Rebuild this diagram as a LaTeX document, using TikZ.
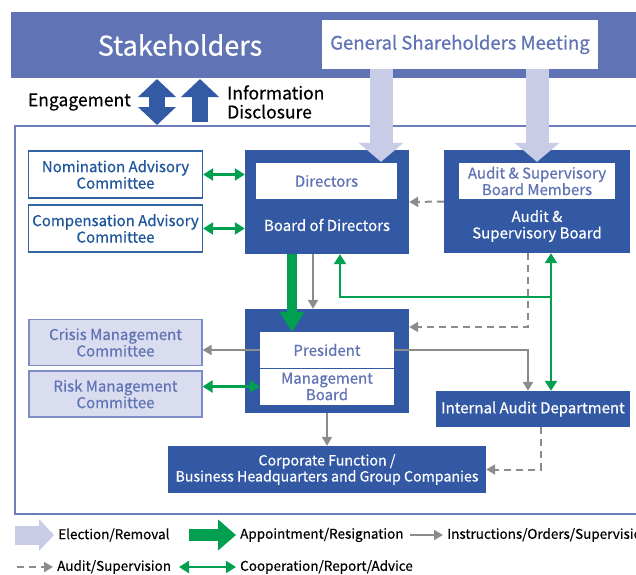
\documentclass[tikz,border=0pt]{standalone}
\usepackage{fontspec}
\setmainfont{Noto Sans CJK JP}[FakeBold=0.45]
\usetikzlibrary{arrows.meta}
\definecolor{banner}{RGB}{96,115,180}
\definecolor{dblue}{RGB}{51,89,164}
\definecolor{lav}{RGB}{200,204,230}
\definecolor{lightfill}{RGB}{218,221,240}
\definecolor{lightborder}{RGB}{125,140,198}
\definecolor{txtpurple}{RGB}{96,115,180}
\definecolor{txtblue}{RGB}{30,85,155}
\definecolor{boxborder}{RGB}{50,100,165}
\definecolor{gr}{RGB}{0,160,80}
\definecolor{greyc}{RGB}{140,140,140}
\definecolor{framec}{RGB}{110,125,190}
\definecolor{engblue}{RGB}{50,90,165}
\begin{document}
\begin{tikzpicture}[x=1pt,y=-1pt,
  boxfont/.style={font=\fontsize{15}{16.5}\selectfont},
  whitebox/.style={draw=boxborder,line width=1.2pt,fill=white,text=txtblue,boxfont,align=center,inner sep=0pt},
  lightbox/.style={draw=lightborder,line width=1.2pt,fill=lightfill,text=txtpurple,boxfont,align=center,inner sep=0pt},
  darkbox/.style={fill=dblue,text=white,boxfont,align=center,inner sep=0pt},
  innerbox/.style={fill=white,text=txtpurple,boxfont,align=center,inner sep=0pt},
  plaintext/.style={text=white,boxfont,align=center,inner sep=0pt},
  legtext/.style={anchor=west,font=\fontsize{13.5}{15}\selectfont,inner sep=0pt},
  instr/.style={draw=greyc,line width=2pt,-{Triangle[width=10pt,length=9pt]}},
  auditl/.style={draw=greyc,line width=2pt,dash pattern=on 7pt off 5pt,-{Triangle[width=10pt,length=9pt]}},
  coop/.style={draw=gr,line width=2.2pt,{Triangle[width=12pt,length=10pt]}-{Triangle[width=12pt,length=10pt]}},
  coopone/.style={draw=gr,line width=2.2pt,-{Triangle[width=12pt,length=10pt]}},
  appoint/.style={draw=gr,line width=10pt,-{Triangle[width=24pt,length=20pt]}},
  election/.style={draw=lav,line width=23pt,-{Triangle[width=44pt,length=19pt]}},
  engage/.style={draw=engblue,line width=16pt},
]
\useasboundingbox (0,0) rectangle (636,574);

% banner
\node[fill=banner,minimum width=628pt,minimum height=66pt,inner sep=0pt] (banner) at (325,45) {};
\node[text=white,font=\fontsize{27}{30}\selectfont,inner sep=0pt] (stake) at (180,45) {Stakeholders};
\node[fill=white,minimum width=276pt,minimum height=49pt,inner sep=0pt,text=txtpurple,font=\fontsize{18.5}{20}\selectfont] (gsm) at (460,44.5) {General Shareholders Meeting};

% engagement
\node[anchor=east,font=\fontsize{17.5}{19}\selectfont,inner sep=0pt] (eng) at (131,102) {Engagement};
\node[anchor=west,align=left,font=\fontsize{17.5}{19}\selectfont,inner sep=0pt] (info) at (227,102) {Information\\Disclosure};
\coordinate (e1) at (157,79);
\coordinate (e2) at (157,125);
\coordinate (u1) at (200,122);
\coordinate (u2) at (200,79);
\draw[engage,{Triangle[width=37pt,length=18pt]}-{Triangle[width=37pt,length=18pt]}] (e1) -- (e2);
\draw[engage,-{Triangle[width=37pt,length=18pt]}] (u1) -- (u2);

% frame
\draw[framec,line width=1.8pt] (640,126) -- (15,126) -- (15,514) -- (640,514);

% committees
\node[whitebox,minimum width=174pt,minimum height=47pt] (nom) at (115.5,174.5) {Nomination Advisory\\Committee};
\node[whitebox,minimum width=174pt,minimum height=47pt] (comp) at (115.5,228.5) {Compensation Advisory\\Committee};
\node[lightbox,minimum width=173pt,minimum height=46pt] (crisis) at (115.5,342.5) {Crisis Management\\Committee};
\node[lightbox,minimum width=173pt,minimum height=46pt] (risk) at (115.5,394) {Risk Management\\Committee};

% board of directors
\node[darkbox,minimum width=164pt,minimum height=104pt] (bod) at (327,202) {};
\node[innerbox,minimum width=141pt,minimum height=36pt] (dir) at (326.5,181) {Directors};
\node[plaintext] (bodl) at (327,225) {Board of Directors};

% audit & supervisory board
\node[darkbox,minimum width=186pt,minimum height=103pt] (asb) at (537,201.5) {};
\node[innerbox,minimum width=156pt,minimum height=36pt] (asbm) at (537,181) {Audit \& Supervisory\\Board Members};
\node[plaintext] (asbl) at (537,226) {Audit \&\\Supervisory Board};

% management
\node[darkbox,minimum width=164pt,minimum height=104pt] (mg) at (327,361) {};
\node[innerbox,minimum width=134pt,minimum height=36pt] (pres) at (327,350) {President};
\node[innerbox,minimum width=134pt,minimum height=37pt] (mb) at (327,386.5) {Management\\Board};
\draw[dblue,line width=1pt] (pres.south west) -- (pres.south east);

% internal audit & corporate
\node[darkbox,minimum width=194pt,minimum height=36pt] (iad) at (533,409) {Internal Audit Department};
\node[darkbox,minimum width=318pt,minimum height=47pt,font=\fontsize{14.2}{16}\selectfont] (corp) at (327,469.5) {Corporate Function /\\Business Headquarters and Group Companies};

% election arrows
\draw[election] ([xshift=-79pt]gsm.south) -- ([xshift=54pt,yshift=-12pt]bod.north);
\draw[election] ([xshift=77pt]gsm.south) -- ([yshift=-12pt]asb.north);

% connectors
\draw[coop] (nom.east) -- (nom.east -| bod.west);
\draw[coop] (comp.east) -- (comp.east -| bod.west);
\draw[auditl] (asb.west) -- (bod.east);
\draw[appoint] ([xshift=-35pt]bod.south) -- ([xshift=-35pt]pres.north);
\draw[instr] ([xshift=-14pt]bod.south) -- ([xshift=-14pt]mg.north);
\coordinate (j) at (551,297);
\draw[coop] ([xshift=13pt]bod.south) |- (j) -- ([xshift=14pt]asb.south);
\draw[coopone] (j) -- (j |- iad.north);
\draw[auditl] ([xshift=-9pt]asb.south) |- ([yshift=34pt]mg.east);
\draw[instr] (pres.east) -| ([xshift=-5pt]iad.north);
\draw[instr] (pres.west) -- (pres.west -| crisis.east);
\draw[coop] (mb.west) -- (mb.west -| risk.east);
\draw[instr] (mg.south) -- (corp.north);
\draw[auditl] ([xshift=8pt]iad.south) |- (corp.east);

% legend
\coordinate (l1a) at (15,535); \coordinate (l1b) at (54,535);
\draw[draw=lav,line width=19pt,-{Triangle[width=31pt,length=15pt]}] (l1a) -- (l1b);
\node[legtext] (lt1) at (58,535) {Election/Removal};
\coordinate (l2a) at (189,535); \coordinate (l2b) at (236,535);
\draw[draw=gr,line width=12pt,-{Triangle[width=30pt,length=18pt]}] (l2a) -- (l2b);
\node[legtext] (lt2) at (240,535) {Appointment/Resignation};
\coordinate (l3a) at (410,535); \coordinate (l3b) at (443,535);
\draw[instr] (l3a) -- (l3b);
\node[legtext] (lt3) at (447,535) {Instructions/Orders/Supervision};
\coordinate (l4a) at (17,567); \coordinate (l4b) at (53,567);
\draw[auditl] (l4a) -- (l4b);
\node[legtext] (lt4) at (57,567) {Audit/Supervision};
\coordinate (l5a) at (179,567); \coordinate (l5b) at (236,567);
\draw[coop] (l5a) -- (l5b);
\node[legtext] (lt5) at (240,567) {Cooperation/Report/Advice};
\end{tikzpicture}
\end{document}
